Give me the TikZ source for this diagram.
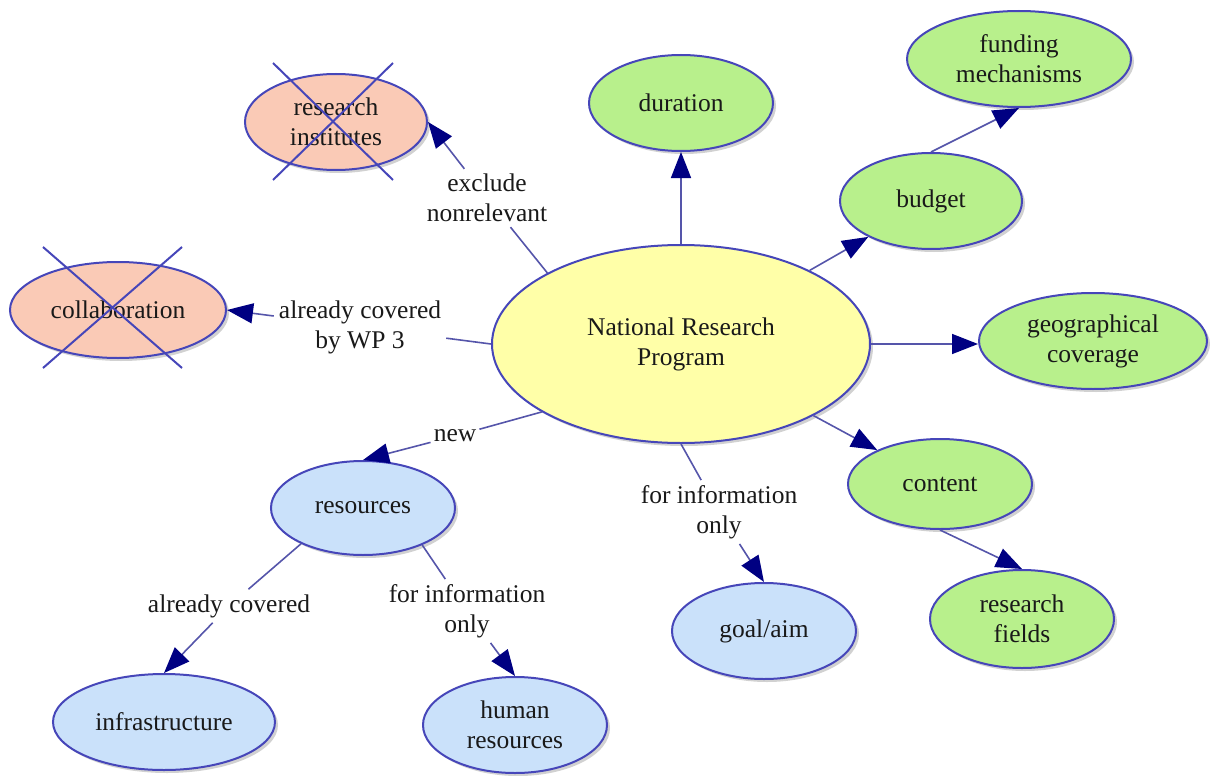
\documentclass[tikz,border=0pt]{standalone}
\usepackage{fontspec}
\setmainfont{Liberation Serif}
\usetikzlibrary{shapes.geometric,arrows.meta,shadows}
\definecolor{edgec}{RGB}{70,70,185}
\definecolor{connc}{RGB}{85,85,170}
\definecolor{tipc}{RGB}{0,0,130}
\definecolor{pinkf}{RGB}{250,202,182}
\definecolor{greenf}{RGB}{184,240,140}
\definecolor{yellowf}{RGB}{255,255,168}
\definecolor{bluef}{RGB}{202,225,250}
\definecolor{txtc}{RGB}{25,25,25}
\tikzset{
  concept/.style={ellipse, draw=edgec, line width=2pt, align=center, inner sep=0pt,
    text=txtc, font=\fontsize{25.5}{30}\selectfont,
    drop shadow={opacity=0.18, shadow xshift=3pt, shadow yshift=-3pt, fill=black}},
  pinkc/.style={concept, fill=pinkf},
  greenc/.style={concept, fill=greenf},
  yellowc/.style={concept, fill=yellowf},
  bluec/.style={concept, fill=bluef},
  lbl/.style={align=center, inner sep=5pt, text=txtc, font=\fontsize{25.5}{30}\selectfont},
  link/.style={draw=connc, line width=1.6pt},
  arr/.style={link, -{Triangle[length=26pt,width=20pt,color=tipc]}},
  crossline/.style={draw=edgec, line width=2pt}
}
\begin{document}
\begin{tikzpicture}[x=1pt,y=-1pt]
\useasboundingbox (0,0) rectangle (1210,776);
% concepts
\node[yellowc, minimum width=378pt, minimum height=198pt] (nrp) at (681,344) {National Research\\Program};
\node[greenc, minimum width=184pt, minimum height=96pt] (dur) at (681,103) {duration};
\node[greenc, minimum width=224pt, minimum height=96pt] (fund) at (1019,59) {funding\\mechanisms};
\node[greenc, minimum width=182pt, minimum height=96pt] (bud) at (931,201) {budget};
\node[greenc, minimum width=228pt, minimum height=96pt] (geo) at (1093,341) {geographical\\coverage};
\node[greenc, minimum width=184pt, minimum height=90pt] (cont) at (940,484) {content};
\node[greenc, minimum width=184pt, minimum height=98pt] (rf) at (1022,619) {research\\fields};
\node[bluec, minimum width=184pt, minimum height=96pt] (goal) at (764,631) {goal/aim};
\node[bluec, minimum width=184pt, minimum height=94pt] (res) at (363,508) {resources};
\node[bluec, minimum width=222pt, minimum height=96pt] (infra) at (164,722) {infrastructure};
\node[bluec, minimum width=184pt, minimum height=96pt] (hum) at (515,725) {human\\resources};
\node[pinkc, minimum width=182pt, minimum height=96pt] (ri) at (336,122) {research\\institutes};
\node[pinkc, minimum width=216pt, minimum height=96pt] (coll) at (118,310) {collaboration};
% link labels
\node[lbl] (lex) at (487,198) {exclude\\nonrelevant};
\node[lbl] (lcov) at (360,327) {already covered\\by WP 3};
\node[lbl, inner sep=3pt] (lnew) at (455,436) {new};
\node[lbl] (lgoal) at (719,512) {for information\\only};
\node[lbl] (linfra) at (229,606) {already covered};
\node[lbl] (lhum) at (467,611) {for information\\only};
% connectors
\draw[link] (nrp.152) -- (lex);
\draw[arr] (lex) -- (ri.east);
\draw[link] (nrp.west) -- (lcov);
\draw[arr] (lcov) -- (coll.east);
\draw[arr] (nrp) -- (dur);
\draw[arr] (nrp) -- (bud);
\draw[arr] (bud.north) -- (fund.south);
\draw[arr] (nrp.east) -- (geo.west |- nrp.east);
\draw[arr] (nrp) -- (cont);
\draw[arr] (cont.south) -- (rf.north);
\draw[link] (nrp.south) -- (lgoal);
\draw[arr] (lgoal) -- (goal.north);
\draw[link] (nrp.206) -- (lnew);
\draw[arr] (lnew) -- (res.north);
\draw[link] (res.210) -- (linfra);
\draw[arr] (linfra) -- (infra.north);
\draw[link] (res.328) -- (lhum);
\draw[arr] (lhum) -- (hum.north);
% crossing-out marks
\draw[crossline] (273,63) -- (393,180);
\draw[crossline] (393,63) -- (273,180);
\draw[crossline] (43,247) -- (182,368);
\draw[crossline] (182,247) -- (43,368);
\end{tikzpicture}
\end{document}
